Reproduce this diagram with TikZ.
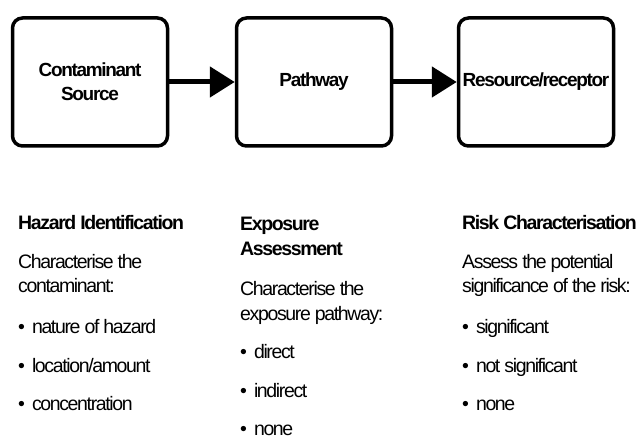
\documentclass[tikz,border=0pt]{standalone}
\usepackage{fontspec}
\setmainfont{Liberation Sans}[LetterSpace=-7]
\usetikzlibrary{arrows.meta}
\newcommand\mybul{•\hspace{7pt}}
\begin{document}
\begin{tikzpicture}[x=1pt,y=-1pt,
  box/.style={draw=black,line width=3.5pt,rounded corners=10pt,minimum width=155pt,minimum height=128pt,
    align=center,inner sep=0pt,font=\fontsize{19}{24}\selectfont\bfseries},
  conn/.style={line width=5pt,-{Triangle[length=25pt,width=30pt]}},
  head/.style={anchor=base west,inner sep=0pt,align=left,font=\fontsize{19.5}{25}\selectfont\bfseries},
  body/.style={anchor=base west,inner sep=0pt,align=left,font=\fontsize{19.5}{24.5}\selectfont},
  item/.style={anchor=base west,inner sep=0pt,font=\fontsize{19.5}{25}\selectfont}]
\useasboundingbox (0,0) rectangle (637,438);
% boxes
\node[box] (src) at (90,82) {Contaminant\\Source};
\node[box] (path) at (314,82) {Pathway};
\node[box] (rec) at (536,82) {Resource/receptor};
\draw[conn] (src) -- (path);
\draw[conn] (path) -- (rec);
% column 1
\node[head] (h1) at (18,230) {Hazard Identification};
\node[body] (d1) at (18,293) {Characterise the\\contaminant:};
\node[item] (a1) at (18,333) {\mybul nature of hazard};
\node[item] (a2) at (18,372) {\mybul location/amount};
\node[item] (a3) at (18,410) {\mybul concentration};
% column 2
\node[head] (h2) at (240,256) {Exposure\\Assessment};
\node[body] (d2) at (240,320) {Characterise the\\exposure pathway:};
\node[item] (b1) at (240,358) {\mybul direct};
\node[item] (b2) at (240,397) {\mybul indirect};
\node[item] (b3) at (240,435) {\mybul none};
% column 3
\node[head] (h3) at (462,230) {Risk Characterisation};
\node[body] (d3) at (462,293) {Assess the potential\\significance of the risk:};
\node[item] (c1) at (462,333) {\mybul significant};
\node[item] (c2) at (462,372) {\mybul not significant};
\node[item] (c3) at (462,410) {\mybul none};
\end{tikzpicture}
\end{document}
